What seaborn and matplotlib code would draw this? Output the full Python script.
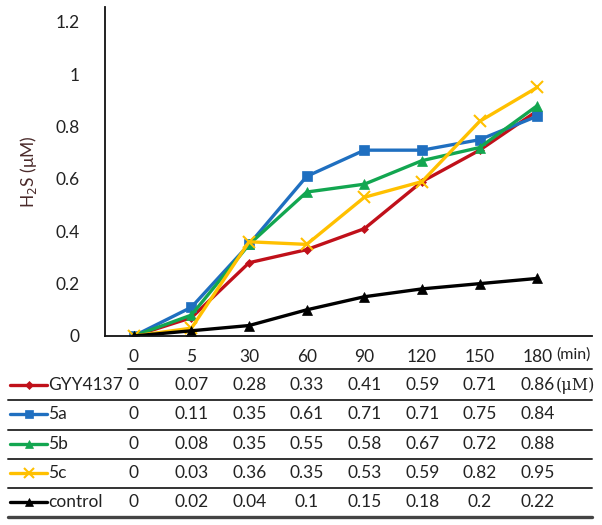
import matplotlib
matplotlib.use("Agg")
import numpy as np
import pandas as pd
import matplotlib.pyplot as plt
import seaborn as sns
from matplotlib.lines import Line2D

times = ["0", "5", "30", "60", "90", "120", "150", "180"]
gyy4137 = [0, 0.07, 0.28, 0.33, 0.41, 0.59, 0.71, 0.86]
c5a = [0, 0.11, 0.35, 0.61, 0.71, 0.71, 0.75, 0.84]
c5b = [0, 0.08, 0.35, 0.55, 0.58, 0.67, 0.72, 0.88]
c5c = [0, 0.03, 0.36, 0.35, 0.53, 0.59, 0.82, 0.95]
control = [0, 0.02, 0.04, 0.1, 0.15, 0.18, 0.2, 0.22]

names = ["GYY4137", "5a", "5b", "5c", "control"]
series = [gyy4137, c5a, c5b, c5c, control]
colors = ["#C0101A", "#1F6FC0", "#12A650", "#FFC000", "#000000"]
markers = ["D", "s", "^", "x", "^"]
msizes = [4.5, 7, 6.5, 8.5, 7]

sns.set_style("white")
plt.rcParams["font.family"] = ["Lato", "DejaVu Sans"]
txt = "#222222"
fs = 12.5

W, H = 602, 525
fig = plt.figure(figsize=(W / 100, H / 100), dpi=100)
# axes in pixel coords: left 105, right 592, top 7, bottom 336
ax = fig.add_axes([105 / W, 1 - 336 / H, (592 - 105) / W, (336 - 7) / H])

xs = np.arange(len(times))
for name, vals, c, m, ms in zip(names, series, colors, markers, msizes):
    df = pd.DataFrame({"x": xs, "y": vals})
    sns.lineplot(data=df, x="x", y="y", ax=ax, color=c, marker=m, markersize=ms,
                 linewidth=2.4, markeredgecolor=c, markeredgewidth=1.5 if m == "x" else 0.5,
                 sort=False, legend=False)

ax.set_xlim(-0.5, 7.95)
ax.set_ylim(0, 1.257)
ax.set_yticks([0, 0.2, 0.4, 0.6, 0.8, 1.0, 1.2])
ax.set_yticklabels(["0", "0.2", "0.4", "0.6", "0.8", "1", "1.2"])
ax.tick_params(axis="y", length=0, pad=18, labelsize=fs, labelcolor=txt)
ax.set_xticks(xs)
ax.set_xticklabels(times)
ax.tick_params(axis="x", length=0, pad=9, labelsize=fs, labelcolor=txt)
ax.set_xlabel("")
ax.set_ylabel("H$_2$S (μM)", fontsize=12.5, color="#4a2a2a", labelpad=12)
for s in ["top", "right"]:
    ax.spines[s].set_visible(False)
for s in ["left", "bottom"]:
    ax.spines[s].set_color("#111111")
    ax.spines[s].set_linewidth(1.3)

def fy(p):
    return 1 - p / H

def fx(p):
    return p / W

# units next to last column
fig.text(fx(556), fy(355), "(min)", fontsize=11.5, color=txt, va="center", ha="left")

# table lines
fig.add_artist(Line2D([fx(128), fx(592)], [fy(369), fy(369)], color="#333333", lw=1.4))
for yl in [400, 430, 459, 488]:
    fig.add_artist(Line2D([fx(8), fx(592)], [fy(yl), fy(yl)], color="#333333", lw=1.4))
fig.add_artist(Line2D([fx(8), fx(592)], [fy(517), fy(517)], color="#444444", lw=2.4))

# table rows
row_y = [385, 414, 444, 473, 502]
col_x = [105 + 57.7 * (i + 0.5) for i in range(len(times))]
for name, vals, c, m, ms, ry in zip(names, series, colors, markers, msizes, row_y):
    fig.add_artist(Line2D([fx(10), fx(47)], [fy(ry), fy(ry)], color=c, lw=2.4))
    fig.add_artist(Line2D([fx(28.5)], [fy(ry)], color=c, marker=m, markersize=ms * 0.9,
                          markeredgecolor=c, markeredgewidth=1.5 if m == "x" else 0.5))
    fig.text(fx(48), fy(ry), name, fontsize=fs, color=txt, va="center", ha="left")
    for cx, v in zip(col_x, vals):
        fig.text(fx(cx), fy(ry), f"{v:g}", fontsize=fs, color=txt, va="center", ha="center")
fig.text(fx(556), fy(row_y[0]), "(μM)", fontsize=11.5, color=txt, va="center", ha="left",
         family="DejaVu Serif")

fig.savefig("out.png", dpi=100)
